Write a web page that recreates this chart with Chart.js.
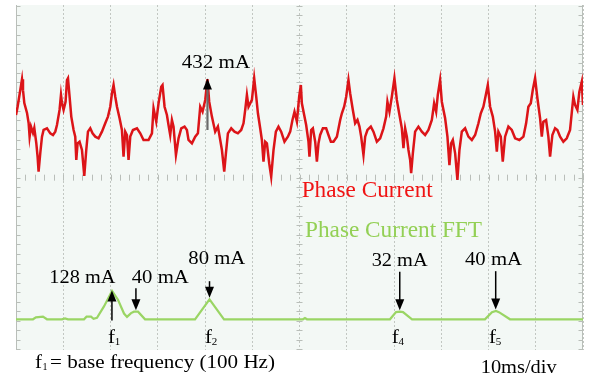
<!DOCTYPE html>
<html>
<head>
<meta charset="utf-8">
<script src="https://cdn.jsdelivr.net/npm/chart.js@4/dist/chart.umd.min.js"></script>
<style>
  html, body { margin: 0; padding: 0; background: #ffffff; }
  #c { display: block; }
</style>
</head>
<body>
<canvas id="c" width="589" height="382" style="width:589px;height:382px"></canvas>
<script>
// ---- Phase current (time domain), time in ms (10 ms/div), current in mA ----
const timeMs = [0,0.34,0.91,1.27,1.48,1.76,2.33,2.67,2.88,3.17,3.60,3.87,4.29,4.57,4.78,5.14,5.50,5.84,6.56,7.26,7.83,8.31,8.67,9.22,9.52,9.73,10.07,10.49,10.79,11.00,11.34,11.70,12.19,12.54,12.76,13.03,13.45,13.96,14.45,14.87,15.23,15.72,16.20,16.78,17.47,18.19,18.89,19.46,19.95,20.31,20.65,21.01,21.37,21.92,22.42,22.76,23.12,23.48,23.82,24.18,24.75,25.60,26.30,26.99,28.05,28.77,29.11,29.68,30.17,30.74,31.01,31.44,31.94,32.28,32.64,33.00,33.34,33.85,34.40,34.97,35.67,36.17,36.51,37.23,37.93,38.50,38.99,39.48,40.05,40.52,40.89,41.46,42.16,42.73,43.22,43.58,44.07,44.43,44.85,45.55,46.24,46.96,47.66,48.15,48.51,48.87,49.21,49.93,50.41,50.84,51.20,51.68,52.04,52.38,52.74,53.10,53.59,54.01,54.50,55.00,55.55,56.12,56.82,57.54,58.03,58.51,58.94,59.45,59.93,60.29,60.50,60.99,61.41,61.90,62.11,62.47,62.83,63.32,63.68,64.02,64.37,64.95,65.64,66.13,66.64,67.19,67.91,68.61,68.97,69.45,69.88,70.36,70.72,71.29,71.78,72.27,72.69,73.05,73.54,73.90,74.38,75.10,75.65,76.37,77.07,77.77,78.34,78.61,79.04,79.54,80.09,80.60,81.09,81.66,82.00,82.36,82.72,83.06,83.42,83.63,83.99,84.47,85.17,85.89,86.59,87.29,88.01,88.49,88.92,89.27,89.76,90.12,90.82,91.31,91.73,92.09,92.45,92.94,93.42,93.85,94.35,95.05,95.75,96.47,97.17,97.87,98.37,98.92,99.43,99.85,100.34,100.91,101.40,101.76,102.09,102.60,103.02,103.51,104.21,104.93,105.63,106.54,107.39,107.96,108.44,108.95,109.37,109.86,110.35,110.92,111.28,111.61,112.19,112.67,113.03,113.52,114.09,114.58,115.15,115.84,116.56,117.26,117.96,118.32,118.81,119.23,119.74,120.0];
const currentmA = [126,195,335,425,335,226,143,59,-56,28,-25,17,-109,-224,-350,-193,-56,0,14,-28,-42,-14,42,168,294,226,168,237,419,434,279,112,0,-56,-252,-112,-98,-168,-386,-168,-14,14,-28,-56,-70,-14,56,112,195,308,377,279,195,98,0,-224,-14,-42,-252,-56,0,14,-28,-84,-84,-28,182,70,224,363,377,195,126,42,-42,84,28,-210,-70,14,28,0,-84,-112,-56,-28,195,153,252,427,237,112,-14,28,-84,-168,-350,-195,-28,14,-14,-28,0,56,168,294,195,252,434,279,140,14,-84,-266,-98,-112,-279,-392,-168,-14,28,-14,-98,-56,-14,84,153,70,279,377,224,126,42,-98,-224,0,14,-98,-266,-112,-42,14,14,-42,-98,-98,-56,84,140,195,279,419,308,168,56,84,28,-56,-210,-56,0,28,-14,-98,-70,14,112,237,153,279,434,252,140,14,-153,14,-56,-168,-252,-363,-195,-14,28,-14,-42,0,84,224,153,294,419,237,98,-56,-294,-112,-84,-196,-419,-168,-14,14,-56,-84,-42,56,140,195,294,377,195,112,-14,-182,-14,-56,-266,-56,28,0,-70,-84,-56,56,195,224,335,434,266,98,-56,70,84,-56,-224,-42,14,0,-56,-98,-70,0,279,210,168,321,405,210];

// ---- Phase current FFT: frequency in Hz, magnitude in screen divisions ----
const fftHz  = [0,17.7,20.8,28.1,32.3,47.9,51.1,54.2,70.9,73.5,78.2,80.8,84.4,91.7,100.1,106.3,112.6,115.7,119.9,123.0,127.2,134.5,186.6,201.7,216.8,299.1,301.2,303.3,389.8,396.1,400.2,403.4,412.8,488.8,496.1,500.3,503.4,514.9,591];
const fftMag = [0,0,0.04,0.055,0,0,0.02,0,0,0.055,0.055,0.01,0.03,0.27,0.593,0.41,0.12,0.05,0.13,0.16,0.16,0,0,0.419,0,0,0.025,0,0,0.15,0.16,0.15,0,0,0.15,0.174,0.15,0,0];

// ---- Annotation texts ----
const peakLabels   = ['128 mA', '40 mA', '80 mA', '32 mA', '40 mA'];
const peakHz       = [100, 125, 201.7, 400, 500];
const peakMag      = [0.593, 0.16, 0.419, 0.16, 0.174];
const harmonicText = ['1', '2', '4', '5'];
const harmonicHz   = [100, 201.7, 400, 500];
const peakCurrentText = '432 mA';
const peakCurrentAt = 40.52;   // ms
const peakCurrentVal = 432;    // mA

// ---------------- layout / style (not data) ----------------
const SERIF = '"Liberation Serif", "Times New Roman", Times, serif';
const BLACK_SIZE = 18.5;
const peakLayout = [
  {dir: 'up',   len: 30,   dx: -62.6, dy: -7.3,  w: 66},
  {dir: 'down', len: 22,   dx: -4.2,  dy: -27.3, w: 57},
  {dir: 'down', len: 16.6, dx: -21.2, dy: -34,   w: 57},
  {dir: 'down', len: 38.3, dx: -28.1, dy: -44,   w: 56},
  {dir: 'down', len: 38.3, dx: -30.7, dy: -44,   w: 57}
];
const harmonicDx = [-4, -4.5, -8, -6.7];

function drawText(ctx, s, x, y, size, w, color) {
  ctx.save();
  ctx.font = size + 'px ' + SERIF;
  ctx.fillStyle = color;
  ctx.textBaseline = 'alphabetic';
  ctx.textAlign = 'left';
  const m = ctx.measureText(s).width;
  ctx.translate(x, y);
  ctx.scale(w ? w / m : 1, 1);
  ctx.fillText(s, 0, 0);
  ctx.restore();
}

function drawArrow(ctx, x, yStart, yTip, shaftColor, headColor, shaftW) {
  const dir = yTip < yStart ? 1 : -1;   // 1: pointing up
  const headLen = 11, headHalf = 4.5;
  ctx.save();
  ctx.strokeStyle = shaftColor;
  ctx.lineWidth = shaftW;
  ctx.beginPath();
  ctx.moveTo(x, yStart);
  ctx.lineTo(x, yTip + dir * (headLen - 1));
  ctx.stroke();
  ctx.fillStyle = headColor;
  ctx.beginPath();
  ctx.moveTo(x, yTip);
  ctx.lineTo(x - headHalf, yTip + dir * headLen);
  ctx.lineTo(x + headHalf, yTip + dir * headLen);
  ctx.closePath();
  ctx.fill();
  ctx.restore();
}

const bgPlugin = {
  id: 'bg',
  beforeDraw(chart) {
    const {ctx, chartArea: a} = chart;
    ctx.save();
    ctx.fillStyle = '#ffffff';
    ctx.fillRect(0, 0, chart.width, chart.height);
    ctx.fillStyle = '#f3f8f5';
    ctx.fillRect(a.left, a.top, a.right - a.left, a.bottom - a.top);
    ctx.restore();
  }
};

const minorPlugin = {
  id: 'minor',
  beforeDatasetsDraw(chart) {
    const {ctx, chartArea: a, scales: {x, y}} = chart;
    ctx.save();
    ctx.strokeStyle = '#b9beb9';
    ctx.lineWidth = 1;
    ctx.beginPath();
    const xl = Math.round(x.getPixelForValue(0)) + 0.5;
    const xr = Math.round(x.getPixelForValue(120)) - 0.5;
    ctx.moveTo(xl, a.top); ctx.lineTo(xl, a.bottom);
    ctx.moveTo(xr, a.top); ctx.lineTo(xr, a.bottom);
    const xc = x.getPixelForValue(60);
    for (let v = -1840; v <= 1040; v += 80) {
      const py = Math.round(y.getPixelForValue(v)) + 0.5;
      if (py < a.top || py > a.bottom) continue;
      ctx.moveTo(xl, py); ctx.lineTo(xl + 4, py);
      ctx.moveTo(xr - 4, py); ctx.lineTo(xr, py);
      ctx.moveTo(xc - 3, py); ctx.lineTo(xc + 3, py);
    }
    const yc = y.getPixelForValue(-400);
    for (let t = 0; t <= 120; t += 2) {
      const px = Math.round(x.getPixelForValue(t)) + 0.5;
      ctx.moveTo(px, yc - 3); ctx.lineTo(px, yc + 3);
    }
    ctx.stroke();
    ctx.restore();
  }
};

const notesPlugin = {
  id: 'notes',
  afterDatasetsDraw(chart) {
    const {ctx, scales: {x, y, x2, y2}} = chart;
    const ax = x.getPixelForValue(peakCurrentAt);
    const aTip = y.getPixelForValue(peakCurrentVal);
    drawArrow(ctx, ax, y.getPixelForValue(0), aTip, '#6a6a6a', '#000000', 2.2);
    drawText(ctx, peakCurrentText, ax - 25.7, aTip - 10.2, BLACK_SIZE, 68.3, '#000000');

    peakLabels.forEach((s, i) => {
      const L = peakLayout[i];
      const px = x2.getPixelForValue(peakHz[i]);
      const peakY = y2.getPixelForValue(peakMag[i]);
      let tip, start;
      if (L.dir === 'up') {
        tip = peakY - 0.5;
        start = tip + L.len;
      } else {
        tip = peakY - 1.5;
        start = tip - L.len;
      }
      drawArrow(ctx, px, start, tip, '#000000', '#000000', 1.5);
      drawText(ctx, s, px + L.dx, tip + L.dy, BLACK_SIZE, L.w, '#000000');
    });

    const base = y2.getPixelForValue(0);
    harmonicText.forEach((s, i) => {
      const px = x2.getPixelForValue(harmonicHz[i]) + harmonicDx[i];
      drawText(ctx, 'f', px, base + 24, BLACK_SIZE, 7, '#000000');
      drawText(ctx, s, px + 6.8, base + 25.5, 11, 5.5, '#000000');
    });

    drawText(ctx, 'Phase Current', 301.7, 196.7, 24, 131, '#f01414');
    drawText(ctx, 'Phase Current FFT', 305, 237.3, 24, 177, '#93d055');

    drawText(ctx, 'f', 35, 368.3, BLACK_SIZE, 7, '#000000');
    drawText(ctx, '1', 42.5, 370, 11, 5, '#000000');
    drawText(ctx, '= base frequency (100 Hz)', 50, 368.3, BLACK_SIZE, 225, '#000000');
    drawText(ctx, '10ms/div', 480.7, 373.3, BLACK_SIZE, 76, '#000000');
  }
};

const gridStyle = { color: '#c2c7c2', lineWidth: 1, drawTicks: false };
const borderStyle = { display: false, dash: [2, 2] };

function build() {
  new Chart(document.getElementById('c'), {
    type: 'line',
    data: {
      datasets: [
        {
          label: 'Phase Current FFT',
          data: fftHz.map((f, i) => ({x: f, y: fftMag[i]})),
          xAxisID: 'x2', yAxisID: 'y2',
          borderColor: '#9ad564', borderWidth: 2.2,
          pointRadius: 0, tension: 0, fill: false
        },
        {
          label: 'Phase Current',
          data: timeMs.map((t, i) => ({x: t, y: currentmA[i]})),
          xAxisID: 'x', yAxisID: 'y',
          borderColor: '#dc1418', borderWidth: 2.5,
          pointRadius: 0, tension: 0, fill: false
        }
      ]
    },
    options: {
      responsive: false,
      devicePixelRatio: 1,
      animation: false,
      events: [],
      layout: { padding: { left: 16, right: 6, top: 5, bottom: 32 } },
      plugins: { legend: { display: false }, tooltip: { enabled: false } },
      scales: {
        x: {
          type: 'linear', min: 0, max: 120,
          ticks: { display: false, stepSize: 10 },
          grid: gridStyle, border: borderStyle
        },
        y: {
          type: 'linear', min: -1845, max: 1048,
          ticks: { display: false, stepSize: 400 },
          afterBuildTicks: s => { s.ticks = s.ticks.filter(t => Math.abs(t.value % 400) < 1e-6); },
          grid: gridStyle, border: borderStyle
        },
        x2: { type: 'linear', min: 0, max: 591, display: false },
        y2: { type: 'linear', min: -0.644, max: 6.589, display: false }
      }
    },
    plugins: [bgPlugin, minorPlugin, notesPlugin]
  });
}

Promise.all([
  document.fonts.load('18px "Liberation Serif"'),
  document.fonts.load('24px "Liberation Serif"')
]).then(build, build);
</script>
</body>
</html>
